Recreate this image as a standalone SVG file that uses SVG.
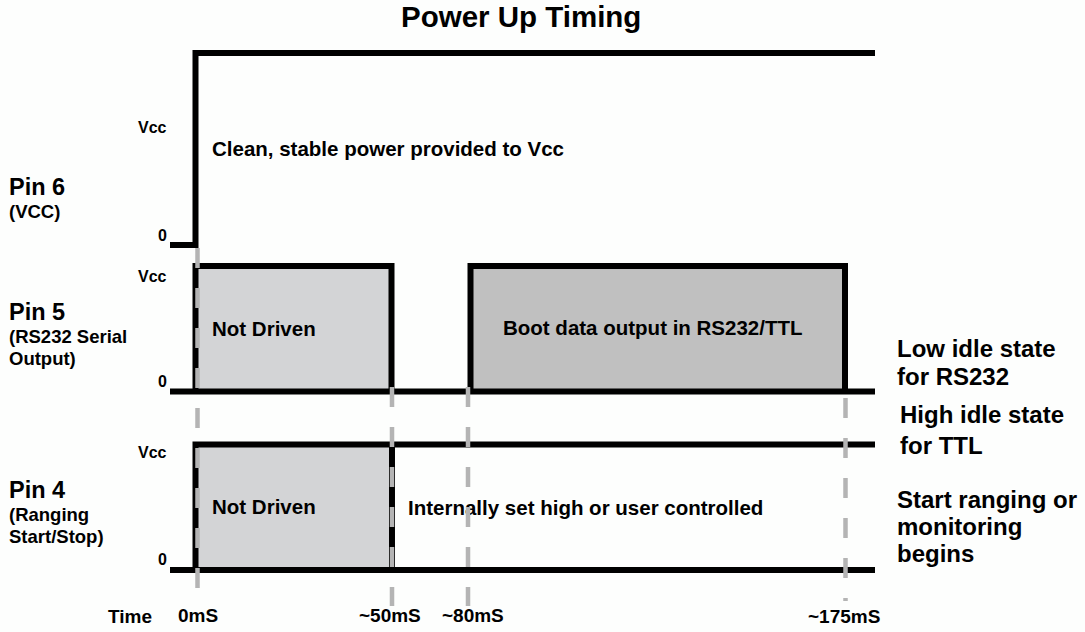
<svg xmlns="http://www.w3.org/2000/svg" width="1085" height="632" viewBox="0 0 1085 632">
<style>
text{font-family:"Liberation Sans",Arial,sans-serif;font-weight:bold;fill:#000}
.sig{fill:none;stroke:#000;stroke-width:6;stroke-linejoin:miter;stroke-linecap:butt}
.box1{fill:#d3d4d6}
.box2{fill:#c0c0c0}
.mark{fill:none;stroke:#b4b4b4;stroke-width:4.5;stroke-dasharray:20 20}
.t{font-size:20.5px}
.pin{font-size:23.5px}
.sub{font-size:18.5px}
.lvl{font-size:16px}
.tm{font-size:19px}
.rt{font-size:24px}
</style>
<rect width="1085" height="632" fill="#fdfefd"/>
<text x="401" y="27" style="font-size:29.5px">Power Up Timing</text>

<g id="pin6">
<text class="pin" x="9" y="195">Pin 6</text>
<text class="sub" x="9" y="218">(VCC)</text>
<text class="lvl" x="138" y="133">Vcc</text>
<text class="lvl" x="158" y="241">0</text>
<path class="sig" d="M170,245 H195.5 V53 H875"/>
<text class="t" x="212" y="156">Clean, stable power provided to Vcc</text>
</g>

<g id="pin5">
<text class="pin" x="9" y="320">Pin 5</text>
<text class="sub" x="9" y="343">(RS232 Serial</text>
<text class="sub" x="9" y="365">Output)</text>
<text class="lvl" x="138" y="282">Vcc</text>
<text class="lvl" x="158" y="387">0</text>
<rect class="box1" x="195.5" y="266" width="196" height="125.5"/>
<rect class="box2" x="470.5" y="266" width="374.5" height="125.5"/>
<path class="sig" d="M170,391.5 H875"/>
<path class="sig" d="M195.5,391.5 V266 H391.5 V391.5"/>
<path class="sig" d="M470.5,391.5 V266 H845 V391.5"/>
<text class="t" x="212" y="336">Not Driven</text>
<text class="t" x="503" y="335">Boot data output in RS232/TTL</text>
</g>

<g id="pin4">
<text class="pin" x="9" y="498">Pin 4</text>
<text class="sub" x="9" y="521">(Ranging</text>
<text class="sub" x="9" y="543">Start/Stop)</text>
<text class="lvl" x="138" y="458">Vcc</text>
<text class="lvl" x="158" y="565">0</text>
<rect class="box1" x="195.5" y="444.5" width="196.5" height="125.5"/>
<path class="sig" d="M170,570 H875"/>
<path class="sig" d="M195.5,570 V444.5 H875"/>
<path class="sig" d="M392,444.5 V570"/>
<text class="t" x="212" y="514">Not Driven</text>
<text class="t" x="408" y="515">Internally set high or user controlled</text>
</g>

<g id="connectors">
<line class="mark" x1="197.5" y1="248" x2="197.5" y2="606"/>
<line class="mark" x1="392" y1="387" x2="392" y2="606"/>
<line class="mark" x1="468" y1="387" x2="468" y2="606"/>
<line class="mark" x1="845.5" y1="398" x2="845.5" y2="601"/>
</g>

<g id="notes">
<text class="rt" x="897" y="357">Low idle state</text>
<text class="rt" x="897" y="385">for RS232</text>
<text class="rt" x="900" y="423">High idle state</text>
<text class="rt" x="900" y="454">for TTL</text>
<text class="rt" x="897" y="508">Start ranging or</text>
<text class="rt" x="897" y="535">monitoring</text>
<text class="rt" x="897" y="562">begins</text>
</g>

<g id="time">
<text class="tm" x="108" y="623">Time</text>
<text class="tm" x="178" y="622">0mS</text>
<text class="tm" x="359" y="622">~50mS</text>
<text class="tm" x="442" y="622">~80mS</text>
<text class="tm" x="808" y="623">~175mS</text>
</g>
</svg>
